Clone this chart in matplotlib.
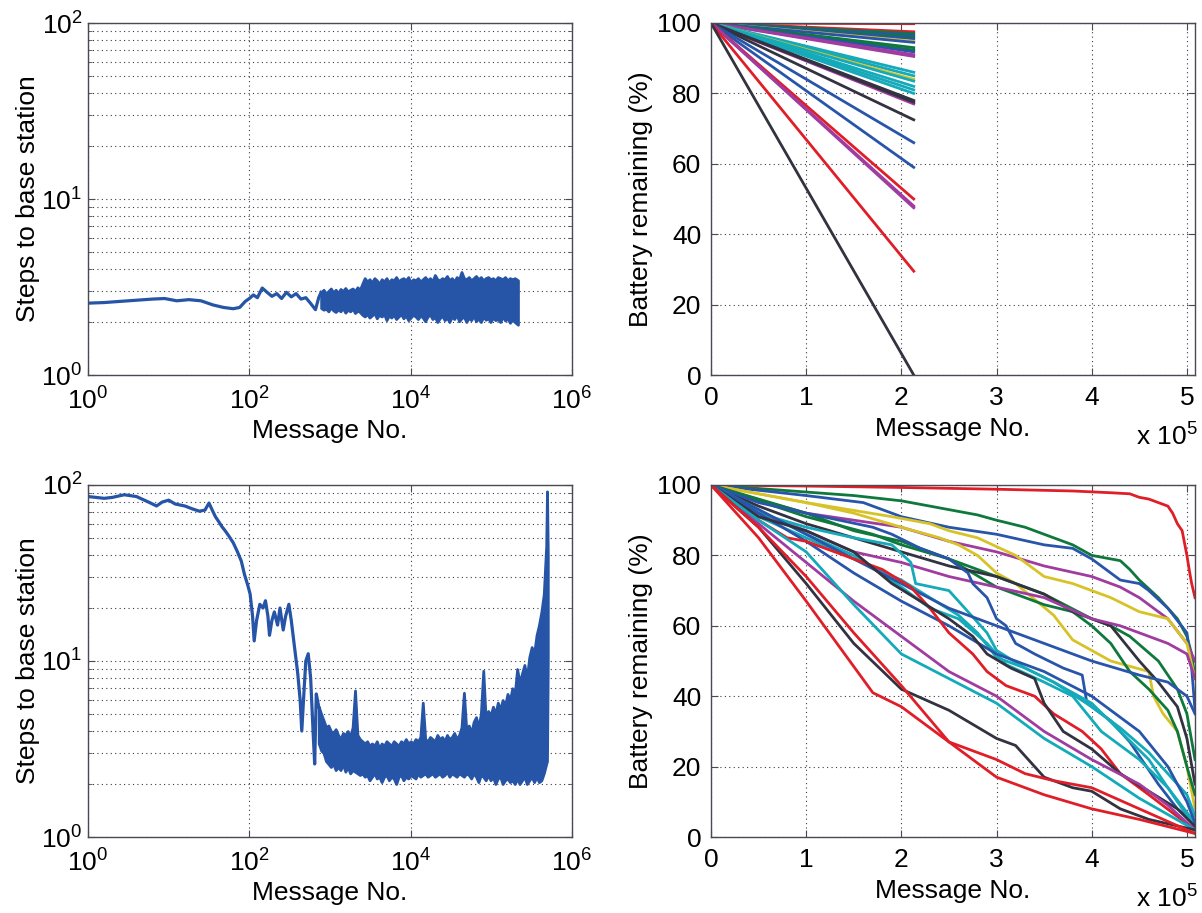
import numpy as np
import matplotlib.pyplot as plt
from matplotlib.ticker import FixedLocator, FuncFormatter, NullLocator, NullFormatter

plt.rcParams['font.family'] = ['Liberation Sans', 'DejaVu Sans']
plt.rcParams['mathtext.fontset'] = 'custom'
plt.rcParams['mathtext.rm'] = 'Liberation Sans'
plt.rcParams['mathtext.it'] = 'Liberation Sans:italic'
plt.rcParams['mathtext.bf'] = 'Liberation Sans:bold'

# colours
palette = {'red': '#e01e28', 'blue': '#2855aa', 'green': '#0f783c',
           'yellow': '#d7c328', 'purple': '#a03ca0', 'cyan': '#14aab9',
           'dark': '#323241'}
line_blue = '#2654a6'

# ---- top left: steps to base station, x as log10(message no.)
# smooth start (single trace)
sparse_lx = [0.00, 0.20, 0.40, 0.60, 0.80, 0.95, 1.10, 1.25, 1.40, 1.55,
             1.68, 1.80, 1.88, 1.95, 2.00, 2.05, 2.10, 2.16, 2.22, 2.28,
             2.34, 2.40, 2.46, 2.52, 2.58, 2.64, 2.70, 2.76, 2.82, 2.86]
sparse_steps = [2.56, 2.58, 2.62, 2.66, 2.70, 2.72, 2.64, 2.68, 2.64, 2.50,
                2.42, 2.38, 2.42, 2.62, 2.72, 2.85, 2.75, 3.12, 2.95, 2.80,
                2.90, 2.72, 2.95, 2.78, 2.90, 2.70, 2.75, 2.55, 2.35, 2.75]
# noisy part: lowest / highest value seen around each x
sparse_band_lx = [2.89, 2.92, 2.95, 2.98, 3.01, 3.04, 3.07, 3.10, 3.13, 3.16,
                  3.19, 3.22, 3.25, 3.28, 3.31, 3.34, 3.37, 3.40, 3.43, 3.46,
                  3.49, 3.52, 3.55, 3.58, 3.61, 3.64, 3.67, 3.70, 3.73, 3.76,
                  3.79, 3.82, 3.85, 3.88, 3.91, 3.94, 3.97, 4.00, 4.03, 4.06,
                  4.09, 4.12, 4.15, 4.18, 4.21, 4.24, 4.27, 4.30, 4.33, 4.36,
                  4.39, 4.42, 4.45, 4.48, 4.51, 4.54, 4.57, 4.60, 4.63, 4.66,
                  4.69, 4.72, 4.75, 4.78, 4.81, 4.84, 4.87, 4.90, 4.93, 4.96,
                  4.99, 5.02, 5.05, 5.08, 5.11, 5.14, 5.17, 5.20, 5.23, 5.26,
                  5.29, 5.33]
sparse_band_lo = [2.40, 2.35, 2.38, 2.30, 2.42, 2.33, 2.28, 2.36, 2.30, 2.40,
                  2.26, 2.35, 2.30, 2.38, 2.25, 2.32, 2.28, 2.20, 2.15, 2.22,
                  2.12, 2.18, 2.25, 2.10, 2.20, 2.15, 2.22, 2.05, 2.18, 2.12,
                  2.20, 2.08, 2.15, 2.22, 2.10, 2.18, 2.05, 2.12, 2.20, 2.15,
                  2.08, 2.18, 2.12, 2.02, 2.15, 2.20, 2.08, 2.14, 2.00, 2.10,
                  2.18, 2.05, 2.12, 2.00, 2.15, 2.08, 2.20, 2.02, 2.10, 2.15,
                  2.00, 2.12, 2.05, 2.18, 2.02, 2.10, 2.00, 2.15, 2.06, 2.10,
                  2.00, 2.12, 2.05, 2.08, 2.00, 2.15, 2.04, 2.10, 1.98, 2.06,
                  2.00, 1.93]
sparse_band_hi = [2.95, 3.05, 2.90, 3.00, 3.10, 2.95, 3.05, 2.92, 3.08, 3.00,
                  3.12, 2.98, 3.05, 3.10, 3.00, 3.15, 3.05, 3.30, 3.55, 3.40,
                  3.50, 3.35, 3.55, 3.45, 3.30, 3.50, 3.40, 3.55, 3.35, 3.50,
                  3.45, 3.60, 3.40, 3.50, 3.55, 3.45, 3.60, 3.35, 3.50, 3.45,
                  3.55, 3.40, 3.50, 3.60, 3.45, 3.55, 3.40, 3.70, 3.50, 3.45,
                  3.55, 3.50, 3.65, 3.45, 3.55, 3.40, 3.60, 3.50, 3.85, 3.55,
                  3.50, 3.60, 3.45, 3.55, 3.65, 3.50, 3.60, 3.45, 3.55, 3.60,
                  3.50, 3.55, 3.45, 3.60, 3.55, 3.50, 3.60, 3.45, 3.55, 3.50,
                  3.55, 3.45]

# ---- bottom left: steps to base station, x as log10(message no.)
dense_lx = [0.00, 0.10, 0.20, 0.30, 0.45, 0.60, 0.75, 0.85, 0.92, 1.00,
            1.08, 1.20, 1.30, 1.38, 1.45, 1.50, 1.54, 1.58, 1.62, 1.66,
            1.70, 1.75, 1.80, 1.85, 1.90, 1.94, 1.98, 2.01, 2.04, 2.06,
            2.09, 2.13, 2.17, 2.20, 2.23, 2.25, 2.28, 2.31, 2.35, 2.38,
            2.42, 2.45, 2.49, 2.52, 2.56, 2.60, 2.63, 2.65, 2.68, 2.70,
            2.73, 2.76, 2.79, 2.81, 2.83]
dense_steps = [86, 85, 84, 85, 88, 86, 80, 76, 80, 82,
               78, 76, 73, 71, 72, 79, 72, 66, 62, 58,
               55, 51, 47, 42, 37, 31, 27, 24, 18, 13,
               17, 21, 20, 22, 18, 14, 17, 19, 16, 20,
               15, 18, 21, 17, 12, 8.5, 6, 4.0, 7, 10,
               11, 8, 4, 2.6, 6.5]
dense_band_lx = [2.86, 2.89, 2.92, 2.95, 2.98, 3.01, 3.04, 3.07, 3.10, 3.13,
                 3.16, 3.19, 3.22, 3.25, 3.28, 3.31, 3.34, 3.37, 3.40, 3.43,
                 3.46, 3.49, 3.52, 3.55, 3.58, 3.61, 3.64, 3.67, 3.70, 3.73,
                 3.76, 3.79, 3.82, 3.85, 3.88, 3.91, 3.94, 3.97, 4.00, 4.03,
                 4.06, 4.09, 4.12, 4.15, 4.18, 4.21, 4.24, 4.27, 4.30, 4.33,
                 4.36, 4.39, 4.42, 4.45, 4.48, 4.51, 4.54, 4.57, 4.60, 4.63,
                 4.66, 4.69, 4.72, 4.75, 4.78, 4.81, 4.84, 4.87, 4.90, 4.93,
                 4.96, 4.99, 5.02, 5.05, 5.08, 5.11, 5.14, 5.17, 5.20, 5.23,
                 5.26, 5.29, 5.32, 5.35, 5.38, 5.41, 5.44, 5.47, 5.50, 5.53,
                 5.56, 5.59, 5.62, 5.65, 5.68, 5.69, 5.70]
dense_band_lo = [3.4, 3.1, 3.0, 2.7, 2.6, 2.5, 2.6, 2.4, 2.5, 2.4,
                 2.6, 2.35, 2.5, 2.3, 2.4, 2.35, 2.3, 2.25, 2.3, 2.2,
                 2.25, 2.1, 2.2, 2.3, 2.15, 2.2, 2.05, 2.2, 2.25, 2.1,
                 2.2, 2.15, 2.0, 2.2, 2.25, 2.1, 2.2, 2.15, 2.25, 2.2,
                 2.15, 2.3, 2.2, 2.25, 2.3, 2.2, 2.25, 2.3, 2.2, 2.25,
                 2.3, 2.2, 2.25, 2.35, 2.2, 2.3, 2.25, 2.2, 2.3, 2.25,
                 2.2, 2.3, 2.25, 2.15, 2.3, 2.2, 2.05, 2.25, 2.2, 2.1,
                 2.25, 2.1, 2.2, 2.0, 2.15, 2.2, 2.0, 2.1, 2.15, 2.05,
                 2.1, 2.0, 2.15, 2.0, 2.1, 2.2, 2.0, 2.1, 2.2, 2.05,
                 2.2, 2.05, 2.1, 2.3, 2.6, 2.7, 10.0]
dense_band_hi = [5.5, 5.0, 4.6, 4.2, 4.3, 4.0, 3.9, 4.1, 3.8, 3.6,
                 3.9, 3.8, 4.0, 3.7, 4.2, 6.8, 3.8, 3.6, 3.5, 3.4,
                 3.5, 3.3, 3.4, 3.3, 3.5, 3.2, 3.4, 3.3, 3.5, 3.4,
                 3.3, 3.5, 3.4, 3.3, 3.5, 3.4, 3.6, 3.4, 3.5, 3.4,
                 3.6, 3.5, 3.7, 5.8, 3.6, 3.5, 3.7, 3.6, 3.5, 3.8,
                 3.6, 3.7, 3.5, 3.8, 3.6, 3.7, 3.9, 3.6, 3.8, 4.2,
                 6.6, 4.0, 4.3, 3.9, 4.5, 4.8, 4.2, 5.0, 8.8, 4.6,
                 5.2, 4.9, 5.5, 5.0, 5.8, 5.3, 6.0, 5.6, 6.5, 6.0,
                 7.0, 6.5, 9.0, 7.5, 8.5, 9.5, 8.0, 10.5, 12.0, 11.0,
                 14.0, 16.0, 19.0, 24.0, 45.0, 92.0, 40.0]

# ---- top right: battery per node, straight lines (message no. in 1e5)
sparse_end_x = 2.13
sparse_end_pct = [99.8, 97.5, 97.0, 96.5, 96.0, 95.5, 94.8, 94.5, 93.0, 92.3,
                  91.8, 91.0, 90.5, 86.0, 85.0, 84.0, 83.5, 82.0, 81.0, 80.0,
                  78.0, 77.0, 77.5, 72.5, 66.0, 59.0, 50.0, 48.0, 47.5, 29.5,
                  0.0]
sparse_colors = ['red', 'red', 'green', 'blue', 'green', 'blue', 'yellow', 'blue',
                 'green', 'green', 'blue', 'purple', 'purple', 'cyan', 'cyan',
                 'yellow', 'cyan', 'cyan', 'cyan', 'cyan', 'dark', 'purple',
                 'dark', 'dark', 'blue', 'blue', 'red', 'purple', 'purple', 'red',
                 'dark']

# ---- bottom right: battery per node (message no. in 1e5)
dense_x = [
    [0, 1, 2, 3, 3.8, 4.2, 4.4, 4.5, 4.6, 4.7, 4.8, 4.85, 4.9, 4.95, 5.0, 5.03, 5.05, 5.085],
    [0, 0.5, 1, 1.5, 2, 2.3, 2.5, 2.8, 3, 3.3, 3.5, 3.8, 4, 4.3, 4.4, 4.5, 4.7, 4.9, 5.0, 5.05, 5.085],
    [0, 1, 1.6, 2, 2.5, 3, 3.5, 3.8, 4, 4.1, 4.3, 4.5, 4.6, 4.8, 5.0, 5.05, 5.085],
    [0, 0.6, 1, 1.5, 2, 2.5, 3, 3.5, 4, 4.3, 4.5, 4.8, 5.0, 5.085],
    [0, 1, 1.9, 2.3, 2.5, 2.8, 3.2, 3.5, 3.8, 4.2, 4.5, 4.8, 5.0, 5.085],
    [0, 1, 1.5, 2, 2.4, 2.6, 2.8, 3.0, 3.2, 3.6, 3.8, 4.2, 4.6, 4.65, 4.75, 4.9, 5.0, 5.085],
    [0, 1, 1.5, 2, 2.5, 3, 3.5, 4, 4.2, 4.4, 4.7, 4.9, 5.0, 5.085],
    [0, 1, 1.7, 2, 2.5, 3, 3.5, 3.8, 4, 4.2, 4.4, 4.6, 4.8, 4.9, 5.0, 5.085],
    [0, 0.5, 1, 1.5, 2, 2.5, 3, 3.5, 3.8, 4, 4.2, 4.5, 4.7, 4.9, 5.0, 5.085],
    [0, 0.5, 1, 1.5, 2, 2.5, 3, 3.5, 4, 4.3, 4.5, 4.8, 5.0, 5.085],
    [0, 0.5, 1, 1.7, 1.9, 2.2, 2.5, 2.7, 2.75, 2.9, 3.0, 3.1, 3.2, 3.4, 3.7, 3.9,
     3.95, 4.2, 4.4, 4.7, 4.9, 5.085],
    [0, 0.5, 1, 1.5, 1.9, 2.1, 2.15, 2.5, 2.7, 2.9, 3.0, 3.3, 3.6, 4, 4.3, 4.6, 4.9, 5.085],
    [0, 0.5, 1, 1.5, 2, 2.3, 2.6, 2.8, 3.0, 3.3, 3.6, 4, 4.3, 4.6, 5.0, 5.085],
    [0, 1, 1.5, 2, 2.3, 2.6, 2.9, 3.1, 3.5, 3.8, 4.1, 4.5, 4.8, 5.085],
    [0, 0.5, 1, 1.5, 2, 2.5, 3, 3.5, 4, 4.5, 4.8, 5.0, 5.085],
    [0, 1, 2, 2.5, 3, 3.5, 4, 4.5, 4.8, 5.0, 5.085],
    [0, 0.5, 0.8, 1, 1.5, 1.8, 2.1, 2.3, 2.5, 2.75, 2.9, 3.1, 3.4, 3.6, 3.9, 4.1,
     4.3, 4.6, 5.085],
    [0, 0.5, 1, 1.5, 1.9, 2.2, 2.5, 2.75, 2.9, 3.15, 3.4, 3.5, 3.7, 4, 4.3, 4.6, 4.9, 5.085],
    [0, 0.5, 1, 1.5, 2, 2.5, 3, 3.5, 4, 4.5, 4.8, 5.085],
    [0, 0.5, 1, 1.5, 2, 2.5, 3, 3.5, 4, 4.5, 5.085],
    [0, 0.5, 1, 1.5, 2, 2.5, 3, 3.2, 3.5, 3.8, 4, 4.3, 4.6, 5.085],
    [0, 0.5, 1, 1.5, 2, 2.5, 3, 3.3, 3.6, 4, 4.5, 5.085],
    [0, 0.5, 1, 1.7, 2, 2.5, 3, 3.5, 4, 4.5, 5.085],
]
dense_pct = [
    [100, 99.7, 99.3, 98.8, 98.3, 97.8, 97.5, 96.5, 96, 95, 94, 92, 89, 87, 80, 75, 72, 68],
    [100, 99, 98, 97, 95.5, 94, 93, 91.5, 90, 88, 86, 83, 80, 78.5, 76, 73, 68, 62, 57, 52, 45],
    [100, 97, 95, 91, 88, 86, 83, 82, 79, 77, 73, 72, 70, 65, 58, 48, 36],
    [100, 95, 92, 90, 88, 84, 81, 77, 74, 71, 68, 62, 55, 50],
    [100, 95, 91, 89, 87, 85, 80, 74, 72, 68, 64, 62, 55, 45],
    [100, 95, 92, 88, 85, 83, 80, 75, 72, 63, 56, 50, 47, 40, 35, 30, 20, 8],
    [100, 92, 87, 84, 79, 74, 69, 62, 60, 57, 50, 42, 35, 22],
    [100, 91, 86, 83, 79, 71, 66, 64, 60, 55, 47, 42, 36, 30, 20, 12],
    [100, 94, 89, 85, 81, 77, 74, 69, 64, 62, 60, 50, 44, 37, 28, 15],
    [100, 92, 87, 81, 78, 74, 71, 68, 62, 60, 58, 55, 52, 45],
    [100, 95, 92, 88, 86, 82, 79, 75, 72, 68, 62, 60, 55, 52, 48, 46,
     38, 33, 27, 15, 8, 4],
    [100, 92, 88, 85, 83, 78, 72, 70, 64, 58, 53, 48, 44, 38, 30, 22, 10, 3],
    [100, 91, 85, 79, 73, 68, 63, 58, 51, 48, 44, 37, 31, 24, 12, 6],
    [100, 86, 80, 71, 65, 62, 55, 49, 44, 40, 30, 22, 14, 4],
    [100, 92, 84, 75, 67, 60, 52, 47, 40, 30, 20, 10, 4],
    [100, 86, 72, 65, 60, 55, 50, 46, 44, 40, 35],
    [100, 90, 85, 84, 79, 76, 71, 65, 58, 52, 47, 43, 40, 35, 30, 25,
     18, 12, 2],
    [100, 91, 87, 81, 72, 67, 62, 57, 52, 48, 45, 38, 30, 25, 18, 13, 8, 3],
    [100, 89, 78, 67, 57, 47, 40, 30, 22, 15, 9, 2],
    [100, 90, 81, 66, 52, 45, 38, 28, 20, 11, 2],
    [100, 88, 72, 55, 42, 36, 28, 26, 17, 14, 13, 8, 5, 2],
    [100, 88, 74, 58, 43, 27, 22, 18, 16, 14, 8, 1],
    [100, 85, 67, 41, 37, 27, 17, 12, 8, 5, 1],
]
dense_colors = ['red', 'green', 'blue', 'purple', 'yellow', 'yellow', 'green',
                'green', 'dark', 'purple', 'blue', 'cyan', 'cyan', 'cyan', 'blue',
                'blue', 'red', 'dark', 'purple', 'cyan', 'dark', 'red', 'red']

fig = plt.figure(figsize=(12.02, 9.13), dpi=100)
W, H = 1202, 913
FS = 19


def add_axes(left, top, right, bottom):
    return fig.add_axes([left / W, 1 - bottom / H, (right - left) / W, (bottom - top) / H])


def frame(ax):
    for s in ax.spines.values():
        s.set_color('#4a4a55')
        s.set_linewidth(1.0)
    ax.tick_params(which='both', direction='in', top=True, right=True,
                   labelsize=FS, color='#4a4a55')
    ax.tick_params(which='major', length=5)
    ax.tick_params(which='minor', length=3)
    ax.set_axisbelow(True)


def log_panel(ax, lx, steps, band_lx, band_lo, band_hi):
    # single trace, joined onto the noisy part
    ax.plot(10 ** np.array(lx + band_lx[:1]), steps + band_hi[:1],
            color=line_blue, lw=2.3)
    ax.fill_between(10 ** np.array(band_lx), band_lo, band_hi,
                    color=line_blue, lw=2.0)
    ax.set_xscale('log')
    ax.set_yscale('log')
    ax.set_xlim(1, 1e6)
    ax.set_ylim(1, 100)
    ax.xaxis.set_major_locator(FixedLocator([1, 1e2, 1e4, 1e6]))
    ax.xaxis.set_minor_locator(NullLocator())
    ax.yaxis.set_major_locator(FixedLocator([1, 10, 100]))
    ax.yaxis.set_minor_locator(FixedLocator([k * d for d in (1, 10) for k in range(2, 10)]))
    ax.yaxis.set_minor_formatter(NullFormatter())
    fmt = FuncFormatter(lambda v, p: r'$10^{%d}$' % round(np.log10(v)))
    ax.xaxis.set_major_formatter(fmt)
    ax.yaxis.set_major_formatter(fmt)
    ax.grid(True, which='major', ls=(0, (1, 3)), color='#3a3a48', lw=0.8)
    ax.grid(True, which='minor', axis='y', ls=(0, (1, 3)), color='#3a3a48', lw=0.8)
    frame(ax)
    ax.tick_params(axis='x', pad=9)
    ax.tick_params(axis='y', pad=4)
    ax.set_xlabel('Message No.', fontsize=FS)
    ax.set_ylabel('Steps to base station', fontsize=FS)
    ax.xaxis.set_label_coords(0.5, -0.125)
    ax.yaxis.set_label_coords(-0.1, 0.5)


def lin_panel(ax):
    ax.set_xlim(0, 5.085e5)
    ax.set_ylim(0, 100)
    ax.set_xticks([0, 1e5, 2e5, 3e5, 4e5, 5e5])
    ax.set_yticks([0, 20, 40, 60, 80, 100])
    ax.xaxis.set_major_formatter(FuncFormatter(lambda v, p: '%d' % round(v / 1e5)))
    ax.grid(True, ls=(0, (1, 3)), color='#3a3a48', lw=0.8)
    frame(ax)
    ax.tick_params(axis='x', pad=8)
    ax.tick_params(axis='y', pad=7)
    ax.set_xlabel('Message No.', fontsize=FS)
    ax.set_ylabel('Battery remaining (%)', fontsize=FS)
    ax.xaxis.set_label_coords(0.5, -0.12)
    ax.yaxis.set_label_coords(-0.12, 0.5)
    ax.text(1.005, -0.2, r'x 10$^5$', transform=ax.transAxes, ha='right',
            va='baseline', fontsize=FS)


ax1 = add_axes(88, 23, 572, 375)
log_panel(ax1, sparse_lx, sparse_steps, sparse_band_lx, sparse_band_lo, sparse_band_hi)

ax2 = add_axes(711, 23, 1195, 375)
for end, c in zip(sparse_end_pct, sparse_colors):
    ax2.plot([0, sparse_end_x * 1e5], [100, end], color=palette[c], lw=2.0)
lin_panel(ax2)

ax3 = add_axes(88, 485, 572, 837)
log_panel(ax3, dense_lx, dense_steps, dense_band_lx, dense_band_lo, dense_band_hi)

ax4 = add_axes(711, 485, 1195, 837)
for xs, ys, c in zip(dense_x, dense_pct, dense_colors):
    ax4.plot(np.array(xs) * 1e5, ys, color=palette[c], lw=2.0)
lin_panel(ax4)

fig.savefig('out.png', dpi=100)
